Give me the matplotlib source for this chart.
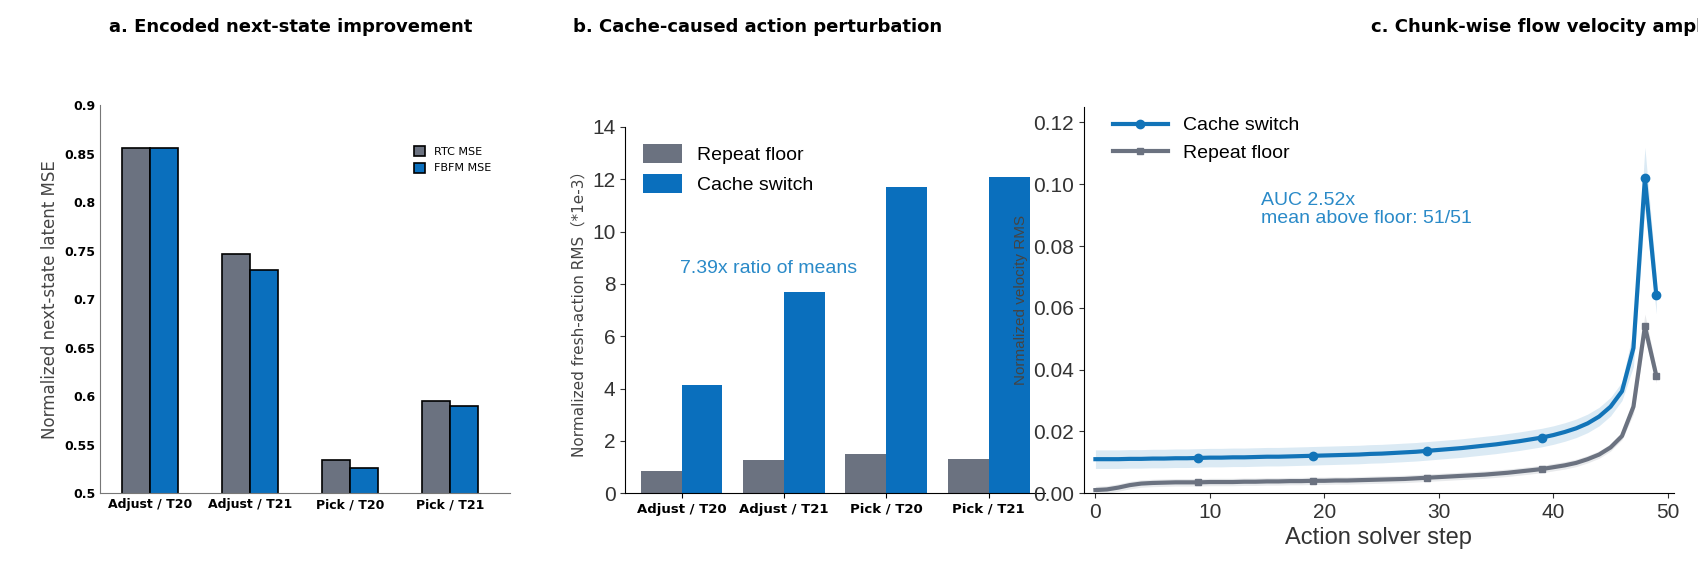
import matplotlib
matplotlib.use("Agg")
import matplotlib.pyplot as plt
import numpy as np

# Panel a
cats_a = ["Adjust / T20", "Adjust / T21", "Pick / T20", "Pick / T21"]
rtc_mse = [0.856, 0.747, 0.534, 0.595]
fbfm_mse = [0.856, 0.730, 0.526, 0.590]
# Panel b
cats_b = ["Adjust / T20", "Adjust / T21", "Pick / T20", "Pick / T21"]
repeat_floor_b = [0.85, 1.25, 1.5, 1.3]
cache_switch_b = [4.15, 7.7, 11.7, 12.1]
# Panel c
steps = list(range(50))
cache_c = [0.0110, 0.0110, 0.0110, 0.0111, 0.0111, 0.0112, 0.0112, 0.0113, 0.0113, 0.0114,
           0.0115, 0.0115, 0.0116, 0.0116, 0.0117, 0.0118, 0.0118, 0.0119, 0.0120, 0.0121,
           0.0122, 0.0123, 0.0124, 0.0125, 0.0127, 0.0128, 0.0130, 0.0132, 0.0134, 0.0137,
           0.0140, 0.0143, 0.0146, 0.0150, 0.0154, 0.0158, 0.0163, 0.0168, 0.0174, 0.0180,
           0.0188, 0.0198, 0.0210, 0.0226, 0.0248, 0.0280, 0.0330, 0.0470, 0.1020, 0.0640]
repeat_c = [0.0010, 0.0012, 0.0018, 0.0026, 0.0031, 0.0033, 0.0034, 0.0035, 0.0035, 0.0035,
            0.0036, 0.0036, 0.0036, 0.0037, 0.0037, 0.0038, 0.0038, 0.0039, 0.0039, 0.0040,
            0.0040, 0.0041, 0.0041, 0.0042, 0.0043, 0.0044, 0.0045, 0.0046, 0.0048, 0.0050,
            0.0052, 0.0054, 0.0056, 0.0058, 0.0060, 0.0063, 0.0066, 0.0070, 0.0074, 0.0078,
            0.0084, 0.0090, 0.0098, 0.0110, 0.0125, 0.0148, 0.0185, 0.0280, 0.0540, 0.0380]
band_c = [0.0030] * 47 + [0.0060, 0.0100, 0.0060]

GRAY = "#6b7280"
BLUE = "#0a6fbd"
BLUE2 = "#1274b8"
ARIAL = ["Liberation Sans", "DejaVu Sans"]

fig = plt.figure(figsize=(16.99, 5.85), dpi=100)

# ---- panel a
ax = fig.add_axes([0.059, 0.157, 0.241, 0.663])
x = np.arange(len(cats_a))
w = 0.28
ax.bar(x - w/2, rtc_mse, w, color=GRAY, edgecolor="black", linewidth=1.2, label="RTC MSE")
ax.bar(x + w/2, fbfm_mse, w, color=BLUE, edgecolor="black", linewidth=1.2, label="FBFM MSE")
ax.set_ylim(0.5, 0.9)
ax.set_yticks(np.arange(0.5, 0.91, 0.05))
ax.set_yticklabels(["0.5", "0.55", "0.6", "0.65", "0.7", "0.75", "0.8", "0.85", "0.9"], fontsize=9, fontweight="bold")
ax.set_xticks(x)
ax.set_xticklabels(cats_a, fontsize=9, fontweight="bold")
ax.set_xlim(-0.5, 3.6)
ax.tick_params(length=0)
for s in ["top", "right"]:
    ax.spines[s].set_visible(False)
ax.spines["left"].set_color("#777")
ax.spines["bottom"].set_color("#777")
ax.set_ylabel("Normalized next-state latent MSE", fontsize=12, color="#444")
ax.legend(loc="upper right", frameon=False, fontsize=8, handlelength=1, handleheight=1, bbox_to_anchor=(0.98, 0.92))
fig.text(0.171, 0.945, "a. Encoded next-state improvement", ha="center", fontsize=13, fontweight="bold")

# ---- panel b
ax = fig.add_axes([0.368, 0.157, 0.247, 0.626])
x = np.arange(len(cats_b))
w = 0.4
ax.bar(x - w/2, repeat_floor_b, w, color=GRAY, label="Repeat floor")
ax.bar(x + w/2, cache_switch_b, w, color=BLUE, label="Cache switch")
ax.set_ylim(0, 14)
ax.set_yticks(range(0, 15, 2))
ax.tick_params(axis="y", labelsize=15, colors="#333")
for t in ax.get_yticklabels():
    t.set_family(ARIAL)
ax.set_xticks(x)
ax.set_xticklabels(cats_b, fontsize=9.5, fontweight="bold")
ax.set_xlim(-0.55, 3.55)
for s in ["top", "right"]:
    ax.spines[s].set_visible(False)
ax.set_ylabel("Normalized fresh-action RMS\uff08*1e-3\uff09", fontsize=11, color="#444",
              family=["DejaVu Sans", "Noto Sans CJK SC"])
leg = ax.legend(loc="upper left", frameon=False, fontsize=14, handlelength=2, handleheight=1.1,
                prop={"family": ARIAL, "size": 14})
ax.text(0.13, 0.6, "7.39x ratio of means", transform=ax.transAxes, fontsize=14, color="#2a8ac8", family=ARIAL)
fig.text(0.446, 0.945, "b. Cache-caused action perturbation", ha="center", fontsize=13, fontweight="bold")

# ---- panel c
ax = fig.add_axes([0.638, 0.157, 0.347, 0.66])
cs = np.array(cache_c); rs = np.array(repeat_c); bd = np.array(band_c)
ax.fill_between(steps, cs - bd, cs + bd, color=BLUE2, alpha=0.15, linewidth=0)
ax.fill_between(steps, rs - bd*0.4, rs + bd*0.4, color=GRAY, alpha=0.15, linewidth=0)
ax.plot(steps, cache_c, color=BLUE2, lw=3, marker="o", ms=6, markevery=[9, 19, 29, 39, 48, 49], label="Cache switch")
ax.plot(steps, repeat_c, color=GRAY, lw=3, marker="s", ms=5, markevery=[9, 19, 29, 39, 48, 49], label="Repeat floor")
ax.set_ylim(0, 0.125)
ax.set_yticks(np.arange(0, 0.121, 0.02))
ax.set_yticklabels([f"{v:.2f}" for v in np.arange(0, 0.121, 0.02)])
ax.set_xlim(-1, 50.5)
ax.set_xticks(range(0, 51, 10))
ax.tick_params(labelsize=15, colors="#333")
for t in ax.get_yticklabels() + ax.get_xticklabels():
    t.set_family(ARIAL)
for s in ["top", "right"]:
    ax.spines[s].set_visible(False)
ax.set_ylabel("Normalized velocity RMS", fontsize=11, color="#444", family=ARIAL)
ax.set_xlabel("Action solver step", fontsize=17, color="#333", family=ARIAL)
ax.legend(loc="upper left", frameon=False, handlelength=2.8, bbox_to_anchor=(0.02, 1.02),
          prop={"family": ARIAL, "size": 14})
ax.text(0.3, 0.70, "AUC 2.52x\nmean above floor: 51/51", transform=ax.transAxes, fontsize=14,
        color="#2a8ac8", linespacing=1.1, family=ARIAL)
fig.text(0.92, 0.945, "c. Chunk-wise flow velocity amplitude", ha="center", fontsize=13, fontweight="bold")

fig.savefig("out.png", dpi=100)
